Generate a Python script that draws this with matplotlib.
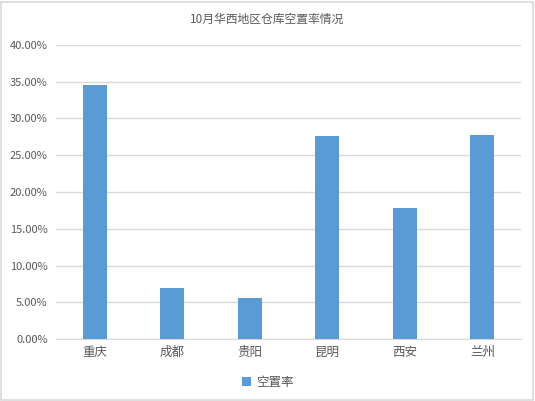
"""
10月华西地区仓库空置率情况 — Excel-style clustered column chart.
"""

import matplotlib
matplotlib.use("Agg")
import matplotlib.pyplot as plt
from matplotlib.ticker import FuncFormatter, MultipleLocator
from matplotlib.patches import Rectangle

plt.rcParams["font.family"] = ["Noto Sans CJK SC", "DejaVu Sans"]

cities = ["重庆", "成都", "贵阳", "昆明", "西安", "兰州"]
vacancy = [0.3456, 0.0695, 0.0558, 0.2762, 0.1782, 0.2775]
series_name = "空置率"
title = "10月华西地区仓库空置率情况"

BAR_COLOR = "#5B9BD5"
TEXT_COLOR = "#595959"
GRID_COLOR = "#D9D9D9"

fig = plt.figure(figsize=(5.35, 4.01), dpi=100)
ax = fig.add_axes([0.1047, 0.1546, 0.8693, 0.7332])

x = range(len(cities))
ax.bar(x, vacancy, width=0.31, color=BAR_COLOR, zorder=3, label=series_name)

ax.set_xlim(-0.5, len(cities) - 0.5)
ax.set_ylim(0, 0.40)
ax.yaxis.set_major_locator(MultipleLocator(0.05))
ax.yaxis.set_major_formatter(FuncFormatter(lambda v, _: f"{v * 100:.2f}%"))
ax.set_xticks(list(x))
ax.set_xticklabels(cities)

ax.grid(axis="y", color=GRID_COLOR, linewidth=1, zorder=0)
for side in ["top", "right", "left"]:
    ax.spines[side].set_visible(False)
ax.spines["bottom"].set_color(GRID_COLOR)
ax.tick_params(axis="both", length=0, colors=TEXT_COLOR)
ax.tick_params(axis="y", labelsize=8, pad=6)
ax.tick_params(axis="x", labelsize=9, pad=5)

fig.text(0.5, 0.953, title, ha="center", va="center",
         fontsize=8.5, color=TEXT_COLOR)

leg = fig.legend(loc="center", bbox_to_anchor=(0.5, 0.047), frameon=False,
                 fontsize=9, handlelength=0.7, handleheight=0.7,
                 handletextpad=0.4, labelcolor=TEXT_COLOR)

# outer chart border
fig.add_artist(Rectangle((0.002, 0.002), 0.994, 0.994, transform=fig.transFigure,
                         fill=False, edgecolor=GRID_COLOR, linewidth=1.2))

fig.savefig("out.png", dpi=100)
